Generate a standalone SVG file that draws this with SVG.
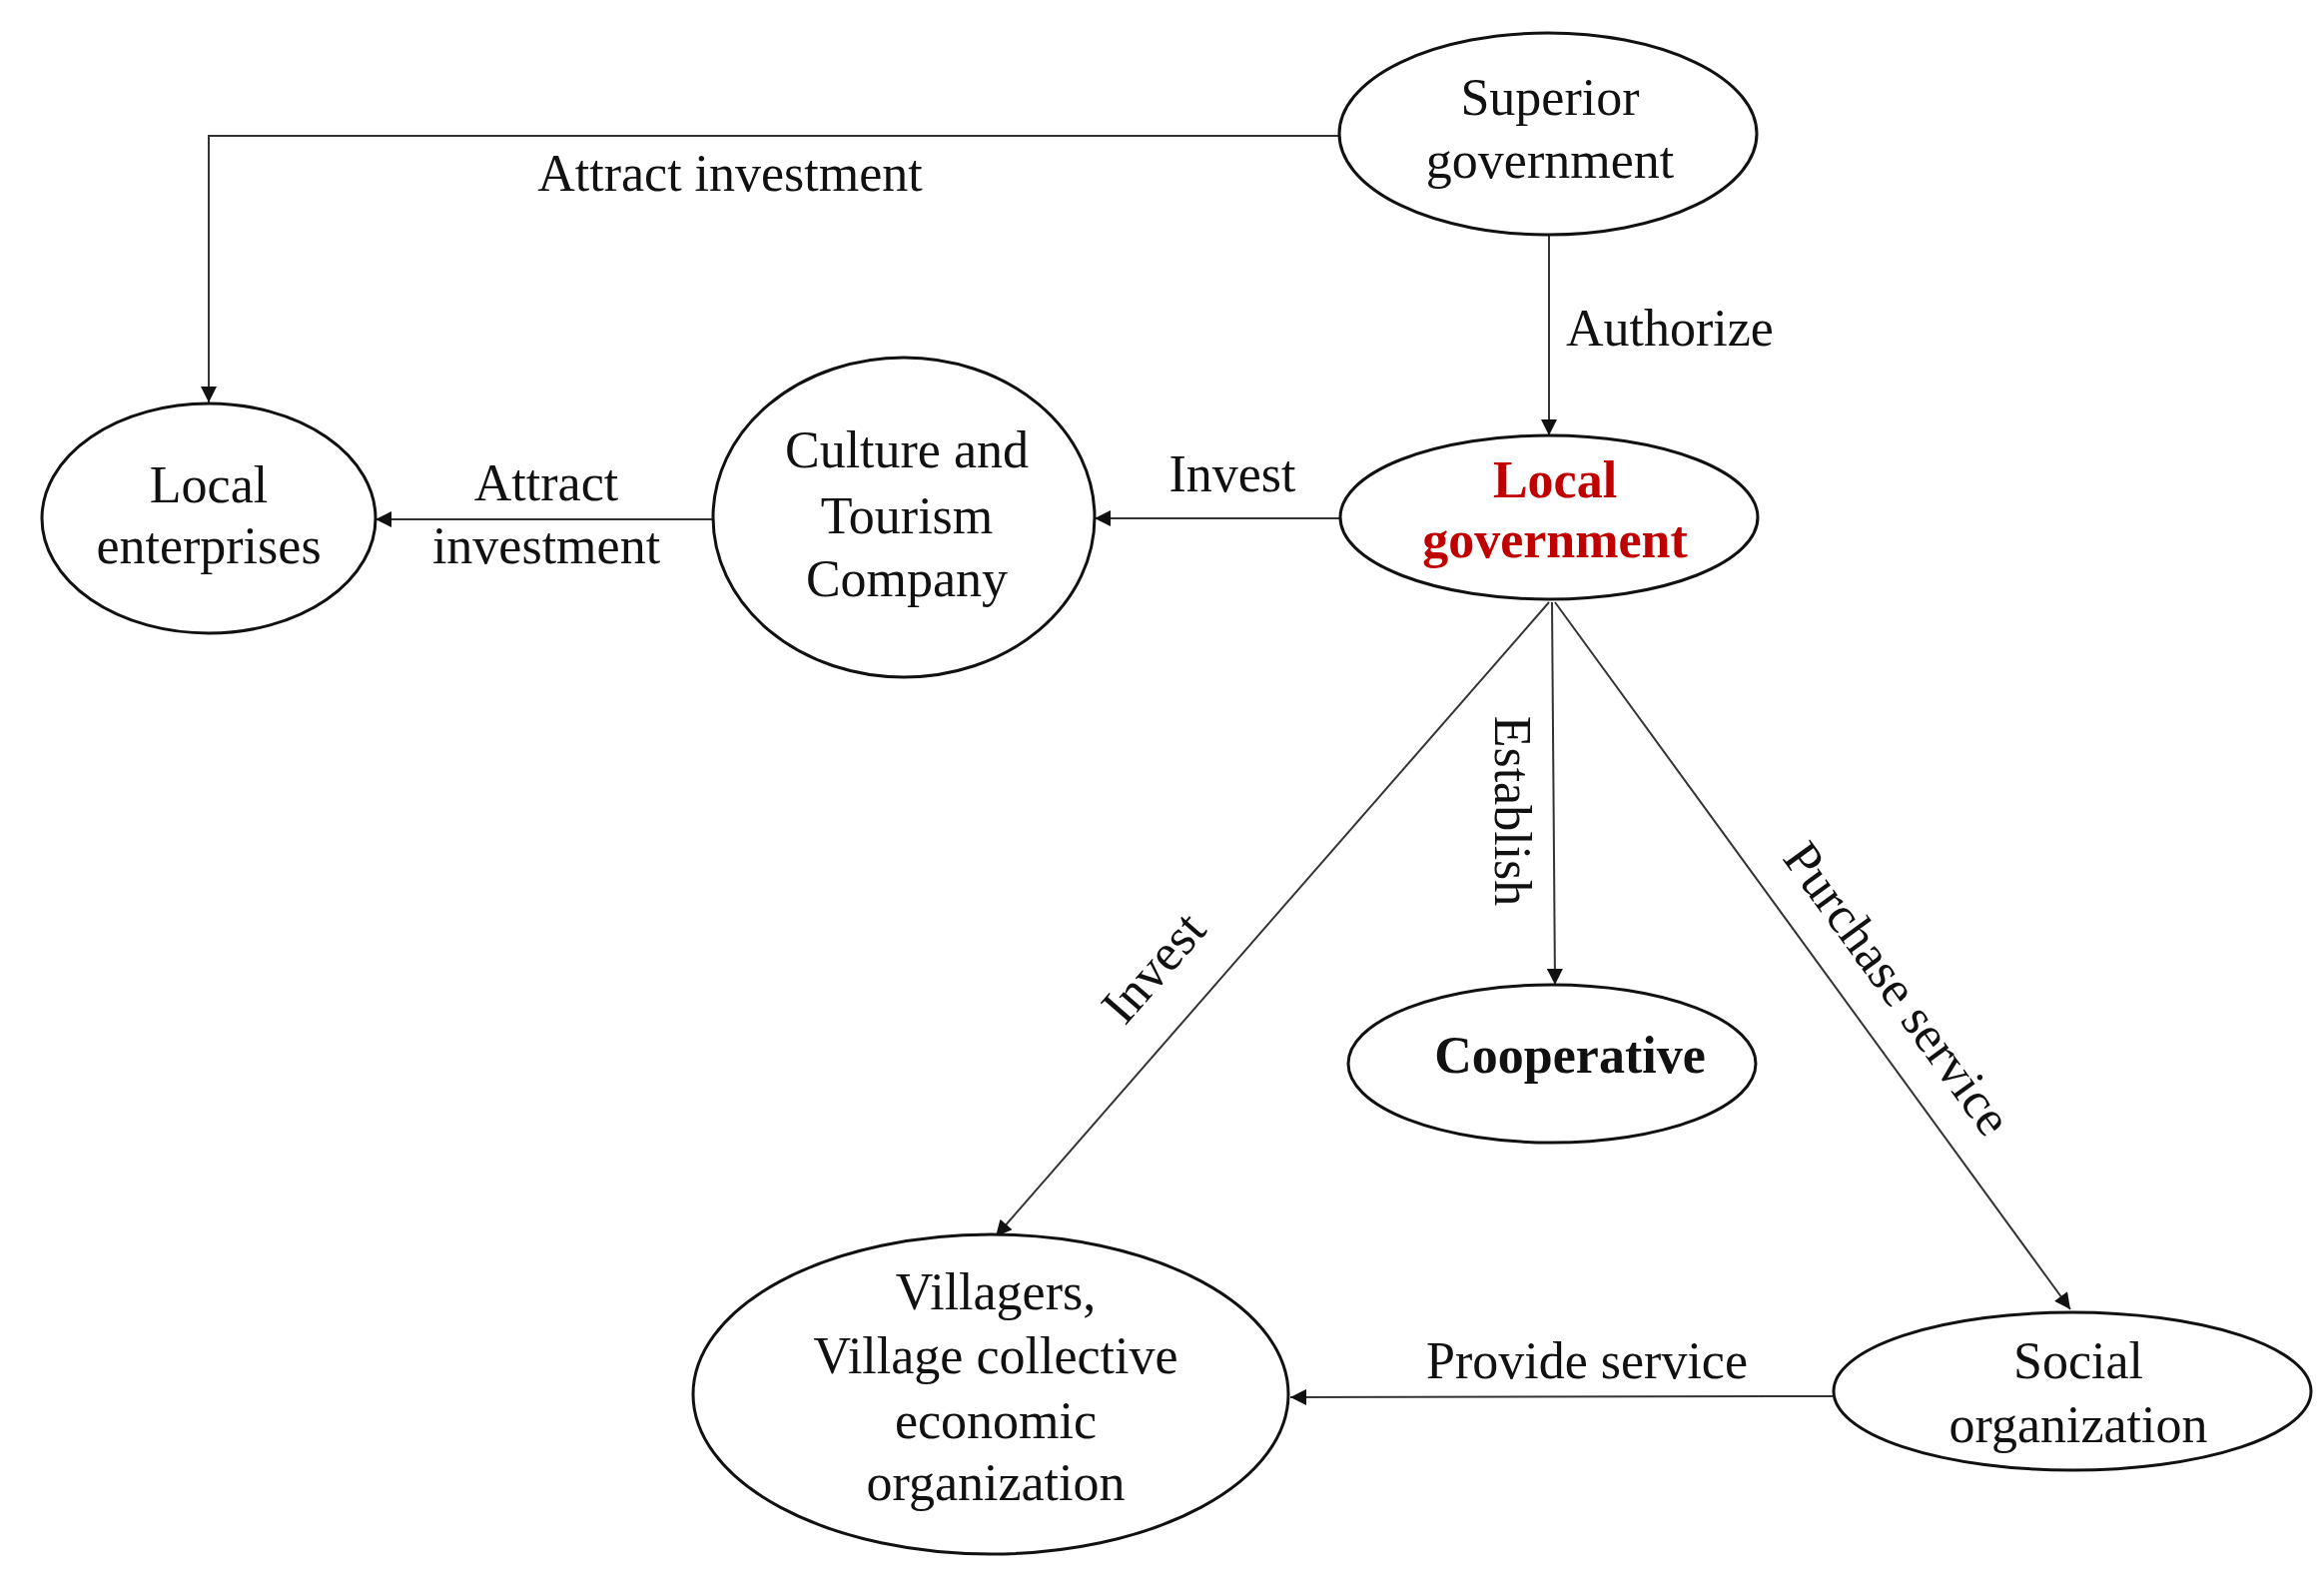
<svg xmlns="http://www.w3.org/2000/svg" width="2327" height="1598" viewBox="0 0 2327 1598">
<style>
text{font-family:"Liberation Serif","DejaVu Serif",serif;font-size:52px;fill:#111;text-anchor:middle}
.n{fill:#fff;stroke:#111;stroke-width:3}
.e{fill:none;stroke:#333;stroke-width:2;marker-end:url(#a)}
.b{font-weight:bold}
.r{fill:#c00000}
</style>
<defs><marker id="a" viewBox="0 0 10 10" refX="10" refY="5" markerWidth="18" markerHeight="16" markerUnits="userSpaceOnUse" orient="auto"><path d="M0,0L10,5L0,10z" fill="#111"/></marker>
</defs>
<rect width="2327" height="1598" fill="#fff"/>
<g id="edges">
<path class="e" d="M1341,136H209V403"/>
<path class="e" d="M1551,236V436"/>
<path class="e" d="M1343,519H1096"/>
<path class="e" d="M715,520H376"/>
<path class="e" d="M1554,603L1557,986"/>
<path class="e" d="M1551,603L997,1238"/>
<path class="e" d="M1557,603L2073,1311"/>
<path class="e" d="M1836,1398L1292,1399"/>
<text x="731" y="191">Attract investment</text>
<text x="1568" y="346" style="text-anchor:start">Authorize</text>
<text x="1234" y="492">Invest</text>
<text x="547" y="501">Attract</text>
<text x="547" y="564">investment</text>
<text transform="translate(1497,812) rotate(90)">Establish</text>
<text transform="translate(1168,980) rotate(-49)">Invest</text>
<text transform="translate(1886,1000) rotate(54)">Purchase service</text>
<text x="1589" y="1380">Provide service</text>
</g>
<g id="superior"><ellipse class="n" cx="1550" cy="134" rx="209" ry="101"/><text x="1552" y="115">Superior</text><text x="1552" y="178">government</text></g>
<g id="localgov"><ellipse class="n" cx="1551" cy="518" rx="209" ry="82"/><text class="b r" x="1557" y="498">Local</text><text class="b r" x="1557" y="558">government</text></g>
<g id="culture"><ellipse class="n" cx="905" cy="518" rx="191" ry="160"/><text x="908" y="468">Culture and</text><text x="908" y="534">Tourism</text><text x="908" y="597">Company</text></g>
<g id="enterprises"><ellipse class="n" cx="209" cy="519" rx="167" ry="115"/><text x="209" y="503">Local</text><text x="209" y="564">enterprises</text></g>
<g id="cooperative"><ellipse class="n" cx="1554" cy="1065" rx="204" ry="79"/><text class="b" x="1572" y="1074">Cooperative</text></g>
<g id="villagers"><ellipse class="n" cx="992" cy="1396" rx="298" ry="160"/><text x="997" y="1311">Villagers,</text><text x="997" y="1375">Village collective</text><text x="997" y="1440">economic</text><text x="997" y="1502">organization</text></g>
<g id="social"><ellipse class="n" cx="2075" cy="1393" rx="239" ry="79"/><text x="2081" y="1380">Social</text><text x="2081" y="1444">organization</text></g>
</svg>
